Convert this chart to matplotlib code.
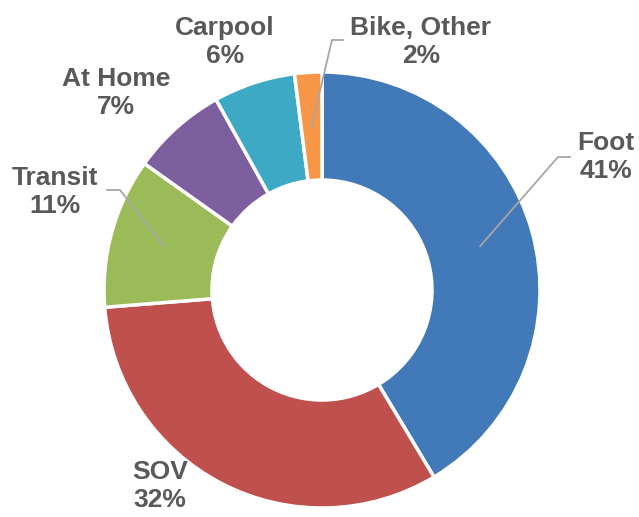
import numpy as np
import matplotlib
matplotlib.use("Agg")
import matplotlib.pyplot as plt

labels = ["Foot", "SOV", "Transit", "At Home", "Carpool", "Bike, Other"]
values = [41, 32, 11, 7, 6, 2]
colors = ["#4279B8", "#C0504D", "#9BBB59", "#7D5E9F", "#3DA9C4", "#F79646"]

plt.rcParams["font.family"] = ["Liberation Sans", "DejaVu Sans"]

fig = plt.figure(figsize=(6.39, 5.17), dpi=100)
ax = fig.add_axes([0, 0, 1, 1])

cx, cy, R, w = 322, 227, 218, 108
wedges, _ = ax.pie(values, radius=R, center=(cx, cy), startangle=90, counterclock=False,
                   colors=colors, wedgeprops=dict(width=w, edgecolor="white", linewidth=2.5),
                   frame=True)
ax.set_xlim(0, 639)
ax.set_ylim(0, 517)
ax.axis("off")

# label positions (pixels, y measured from top) and optional leader elbows
label_pos = {"Foot": (606, 157), "SOV": (160, 486), "Transit": (55, 192),
             "At Home": (116, 93), "Carpool": (225, 42), "Bike, Other": (421, 42)}
elbows = {"Foot": [(558, 157), (570, 157)],
          "Transit": [(120, 190), (107, 190)],
          "Bike, Other": [(332, 40), (343, 40)]}

total = sum(values)
cum = np.cumsum([0] + values)
for i, lab in enumerate(labels):
    x, y = label_pos[lab]
    ax.text(x, 517 - y, f"{lab}\n{values[i]}%", ha="center", va="center",
            fontsize=19, fontweight="bold", color="#595959", linespacing=1.2)
    if lab in elbows:
        mid = 90 - (cum[i] + values[i] / 2) / total * 360
        r = R - w / 2
        ax_ = cx + r * np.cos(np.radians(mid))
        ay_ = cy + r * np.sin(np.radians(mid))
        xs = [ax_] + [p[0] for p in elbows[lab]]
        ys = [ay_] + [517 - p[1] for p in elbows[lab]]
        ax.plot(xs, ys, color="#A6A6A6", lw=1.3, zorder=5)

fig.savefig("out.png", dpi=100)
